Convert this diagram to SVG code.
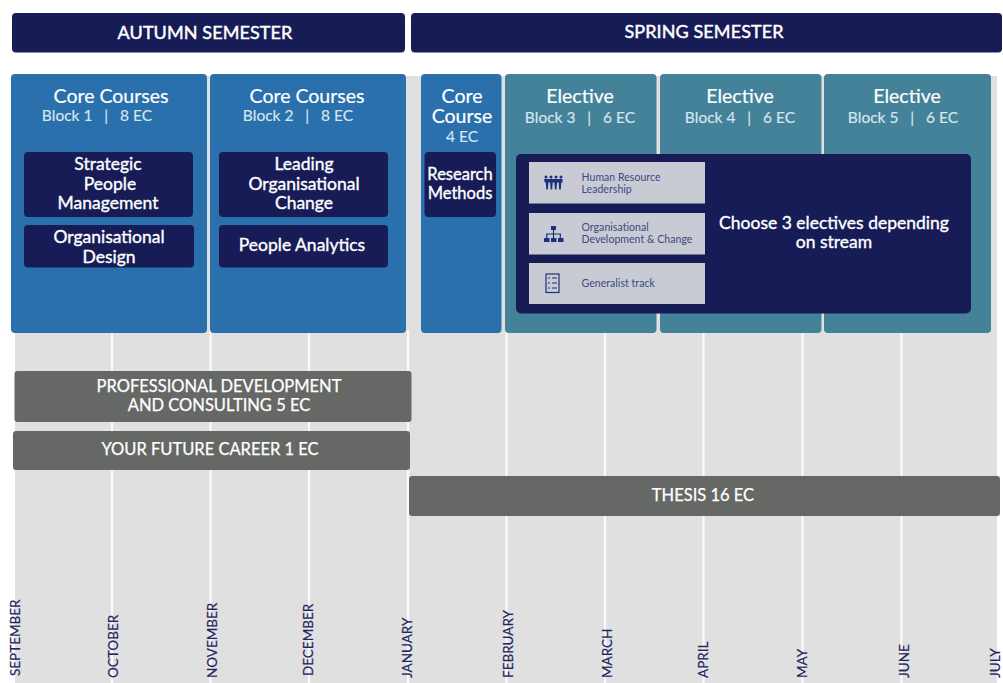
<svg xmlns="http://www.w3.org/2000/svg" width="1003" height="683" viewBox="0 0 1003 683">
<style>
text{font-family:Lato,"Liberation Sans",sans-serif;text-anchor:middle;fill:#fff;white-space:pre}
.navy{fill:#171c57}.blue{fill:#2a70ad}.teal{fill:#448299}.grey{fill:#666866}.pale{fill:#c8cbd4}
.h{font-size:18px;stroke:#fff;stroke-width:.45;letter-spacing:.1px}
.t{font-size:19.500px;stroke:#fff;stroke-width:.2}
.s{font-size:15.500px;fill:#d8e6f0;stroke:#d8e6f0;stroke-width:.15}
.c{font-size:17.500px;stroke:#fff;stroke-width:.35}
.r{font-size:16.500px}
.g{font-size:16.500px;stroke:#fff;stroke-width:.25}
.m{font-size:13.500px;fill:#1f2560;stroke:#1f2560;stroke-width:.2;text-anchor:start}
.l{font-size:10.500px;fill:#3a4a80;text-anchor:start;letter-spacing:.05px}
.ln{stroke:#fafafa;stroke-width:2.200}
.i{fill:#1d2f78}.io{fill:none;stroke:#1d2f78;stroke-width:1.200}
</style>
<rect width="1003" height="683" fill="#fff"/>
<g id="timeline">
<rect x="15" y="76" width="982" height="607" fill="#e0e0e0"/>
<g id="connectors">
<path class="ln" d="M112 330V683M210.500 330V683M309 330V683M408 330V683M506.500 330V683M605 330V683M703.500 330V683M802.500 330V683M901.500 330V683"/>
</g>
<g class="months">
<text class="m" transform="translate(20 676) rotate(-90)">SEPTEMBER</text>
<text class="m" transform="translate(118 678) rotate(-90)">OCTOBER</text>
<text class="m" transform="translate(217 678) rotate(-90)">NOVEMBER</text>
<text class="m" transform="translate(313 676) rotate(-90)">DECEMBER</text>
<text class="m" transform="translate(412 678) rotate(-90)">JANUARY</text>
<text class="m" transform="translate(513 678) rotate(-90)">FEBRUARY</text>
<text class="m" transform="translate(612 678) rotate(-90)">MARCH</text>
<text class="m" transform="translate(708 678) rotate(-90)">APRIL</text>
<text class="m" transform="translate(807 678) rotate(-90)">MAY</text>
<text class="m" transform="translate(909 678) rotate(-90)">JUNE</text>
<text class="m" transform="translate(1000 678) rotate(-90)">JULY</text>
</g>
</g>
<g id="autumn-header"><rect class="navy" x="12" y="13" width="393" height="39.500" rx="4"/><text class="h" x="205" y="39">AUTUMN SEMESTER</text></g>
<g id="spring-header"><rect class="navy" x="411" y="13" width="591" height="39.500" rx="4"/><text class="h" x="704" y="38">SPRING SEMESTER</text></g>
<g id="block1"><rect class="blue" x="11" y="74" width="196" height="259" rx="4"/><text class="t" x="111" y="103">Core Courses</text><text class="s" x="97" y="121">Block 1   |   8 EC</text>
<rect class="navy" x="24" y="152" width="169" height="65" rx="4"/><text class="c" x="108" y="170">Strategic</text><text class="c" x="110" y="189.500">People</text><text class="c" x="108" y="209">Management</text>
<rect class="navy" x="24" y="225" width="170" height="42.500" rx="4"/><text class="c" x="109" y="243">Organisational</text><text class="c" x="109" y="262.500">Design</text></g>
<g id="block2"><rect class="blue" x="210" y="74" width="196" height="259" rx="4"/><text class="t" x="307" y="103">Core Courses</text><text class="s" x="298" y="121">Block 2   |   8 EC</text>
<rect class="navy" x="219" y="152" width="169" height="65" rx="4"/><text class="c" x="304" y="170">Leading</text><text class="c" x="304" y="189.500">Organisational</text><text class="c" x="304" y="209">Change</text>
<rect class="navy" x="219" y="225" width="169" height="42.500" rx="4"/><text class="c" x="302" y="250.500">People Analytics</text></g>
<g id="core-course"><rect class="blue" x="421" y="74" width="80.500" height="259" rx="4"/><text class="t" x="462" y="103">Core</text><text class="t" x="462" y="123">Course</text><text class="s" x="462" y="142">4 EC</text>
<rect class="navy" x="424.500" y="152" width="71.500" height="65" rx="4"/><text class="c r" x="460" y="180">Research</text><text class="c r" x="460" y="199">Methods</text></g>
<g id="block3"><rect class="teal" x="505" y="74" width="151.500" height="259" rx="4"/><text class="t" x="580" y="103">Elective</text><text class="s" x="580" y="123">Block 3   |   6 EC</text></g>
<g id="block4"><rect class="teal" x="660" y="74" width="161.500" height="259" rx="4"/><text class="t" x="740" y="103">Elective</text><text class="s" x="740" y="123">Block 4   |   6 EC</text></g>
<g id="block5"><rect class="teal" x="824" y="74" width="167" height="259" rx="4"/><text class="t" x="907" y="103">Elective</text><text class="s" x="903" y="123">Block 5   |   6 EC</text></g>
<g id="electives"><rect class="navy" x="516" y="154" width="455" height="159.500" rx="5"/><text class="c" x="834" y="229">Choose 3 electives depending</text><text class="c" x="834" y="248">on stream</text>
<g id="track-hr"><rect class="pale" x="529" y="162" width="176" height="41.500"/>
<g class="i"><circle cx="546" cy="177" r="1.500"/><circle cx="551" cy="177" r="1.500"/><circle cx="556" cy="177" r="1.500"/><circle cx="561" cy="177" r="1.500"/><path d="M544 179h18.500v3.500h-1.200l-.5 7h-1.600l-.5-7h-1.700l-.5 7h-1.600l-.5-7h-1.700l-.5 7h-1.600l-.5-7h-1.700l-.5 7h-1.600l-.5-7h-1.100z"/></g>
<text class="l" x="581.500" y="180.500">Human Resource</text><text class="l" x="581.500" y="192.500">Leadership</text></g>
<g id="track-od"><rect class="pale" x="529" y="213" width="176" height="41.500"/>
<g class="i"><rect x="551" y="226" width="5" height="4"/><rect x="544" y="238" width="5.500" height="4"/><rect x="551" y="238" width="5.500" height="4"/><rect x="558" y="238" width="5.500" height="4"/></g><path class="io" d="M553.500 230v8M546.800 238v-4h13.500v4"/>
<text class="l" x="581.500" y="231">Organisational</text><text class="l" x="581.500" y="243">Development &amp; Change</text></g>
<g id="track-gen"><rect class="pale" x="529" y="263" width="176" height="41"/>
<rect class="io" x="546" y="274" width="13" height="18.500"/><path class="io" d="M548 278h2M552 278h5M548 283h2M552 283h5M548 288h2M552 288h5"/>
<text class="l" x="581.500" y="287">Generalist track</text></g></g>
<g id="professional"><rect class="grey" x="14.500" y="371" width="397" height="51" rx="3"/><text class="g" x="219" y="392">PROFESSIONAL DEVELOPMENT</text><text class="g" x="219" y="411">AND CONSULTING 5 EC</text></g>
<g id="career"><rect class="grey" x="13" y="431" width="397" height="39" rx="3"/><text class="g" x="210" y="455">YOUR FUTURE CAREER 1 EC</text></g>
<g id="thesis"><rect class="grey" x="409" y="476" width="591" height="40" rx="3"/><text class="g" x="703" y="501">THESIS 16 EC</text></g>
</svg>
